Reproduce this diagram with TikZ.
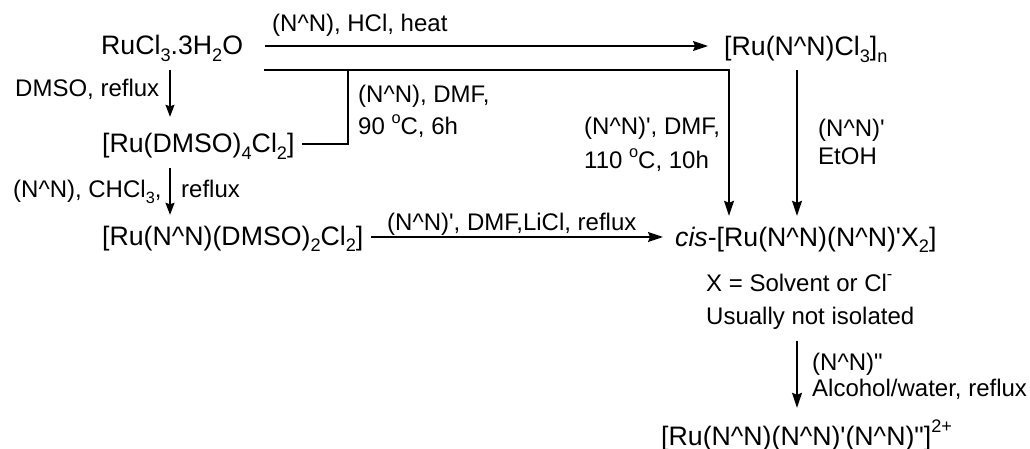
\documentclass[tikz,border=0pt]{standalone}
\usepackage{fontspec}
\setmainfont[Ligatures=NoCommon]{Liberation Sans}
\usetikzlibrary{arrows.meta}
\newcommand\dn[1]{\raisebox{-.26em}{\scalebox{.68}{#1}}}
\newcommand\up[1]{\raisebox{.46em}{\scalebox{.68}{#1}}}
\newcommand\NN{(N\textasciicircum N)}
\newcommand\pr{\textquotesingle}
\newcommand\dpr{\textquotedbl}
\tikzset{
  chem/.style={anchor=base west,inner sep=0pt,text height=22pt,text depth=6pt,font=\fontsize{26.7}{30}\selectfont},
  lab/.style={anchor=base west,inner sep=0pt,font=\fontsize{24}{27}\selectfont},
  bond/.style={line width=1.5pt},
  arr/.style={line width=1.5pt,-{Stealth[length=15pt,width=10pt,inset=2pt]}},
  arrs/.style={line width=1.5pt,-{Stealth[length=12pt,width=9pt,inset=1.5pt]}}
}
\begin{document}
\begin{tikzpicture}[x=1pt,y=-1pt]
\useasboundingbox (0,0) rectangle (1030,449);
\node[chem] (ru) at (101,55) {RuCl\dn{3}.3H\dn{2}O};
\node[chem] (run) at (724,56) {[Ru\NN Cl\dn{3}]\dn{n}};
\node[chem] (dm) at (102,153) {[Ru(DMSO)\dn{4}Cl\dn{2}]};
\node[chem] (nn) at (102,245) {[Ru\NN(DMSO)\dn{2}Cl\dn{2}]};
\node[chem] (cis) at (675,246) {\textit{cis}-[Ru\NN\NN\pr X\dn{2}]};
\node[lab] (xs) at (706,291) {X = Solvent or Cl\up{-}};
\node[chem,font=\fontsize{24}{27}\selectfont] (uni) at (706,324) {Usually not isolated};
\node[chem] (fin) at (661,445) {[Ru\NN\NN\pr\NN\dpr]\up{2+}};
\node[lab] (l1) at (272,32) {\NN, HCl, heat};
\node[lab] (l2) at (15,97) {DMSO, reflux};
\node[lab] (l3) at (13,197) {\NN, CHCl\dn{3},};
\node[lab] (l4) at (181,197) {reflux};
\node[lab] (l5) at (358,103) {\NN, DMF,};
\node[lab] (l6) at (358,135) {90 \up{o}C, 6h};
\node[lab] (l7) at (584,135) {\NN\pr, DMF,};
\node[lab] (l8) at (584,169) {110 \up{o}C, 10h};
\node[lab] (l9) at (818,137) {\NN\pr};
\node[lab] (l10) at (818,165) {EtOH};
\node[lab] (l11) at (387,230) {\NN\pr, DMF,LiCl, reflux};
\node[lab] (l12) at (812,370) {\NN\dpr};
\node[lab] (l13) at (812,396) {Alcohol/water, reflux};
\draw[arr] ([xshift=164pt,yshift=1pt]ru.west) -- ([xshift=-16pt,yshift=2pt]run.west);
\draw[arrs] ([xshift=69pt,yshift=-9pt]ru.south west) -- ([xshift=68pt,yshift=14pt]dm.north west);
\draw[arrs] ([xshift=68pt,yshift=-9pt]dm.south west) -- ([xshift=68pt,yshift=8pt]nn.north west);
\draw[arr] ([xshift=163pt,yshift=-23pt]ru.west) -| ([xshift=54pt,yshift=8pt]cis.north west);
\draw[arr] ([xshift=73pt,yshift=-8pt]run.south west) -- ([xshift=122pt,yshift=8pt]cis.north west);
\draw[bond] ([xshift=200pt,yshift=1pt]dm.west) -| ([xshift=247pt,yshift=-24pt]ru.west);
\draw[arr] ([xshift=269pt]nn.west) -- ([xshift=-12pt,yshift=1pt]cis.west);
\draw[arr] ([xshift=91pt,yshift=-11pt]uni.south west) -- ([xshift=136pt,yshift=15pt]fin.north west);
\end{tikzpicture}
\end{document}
